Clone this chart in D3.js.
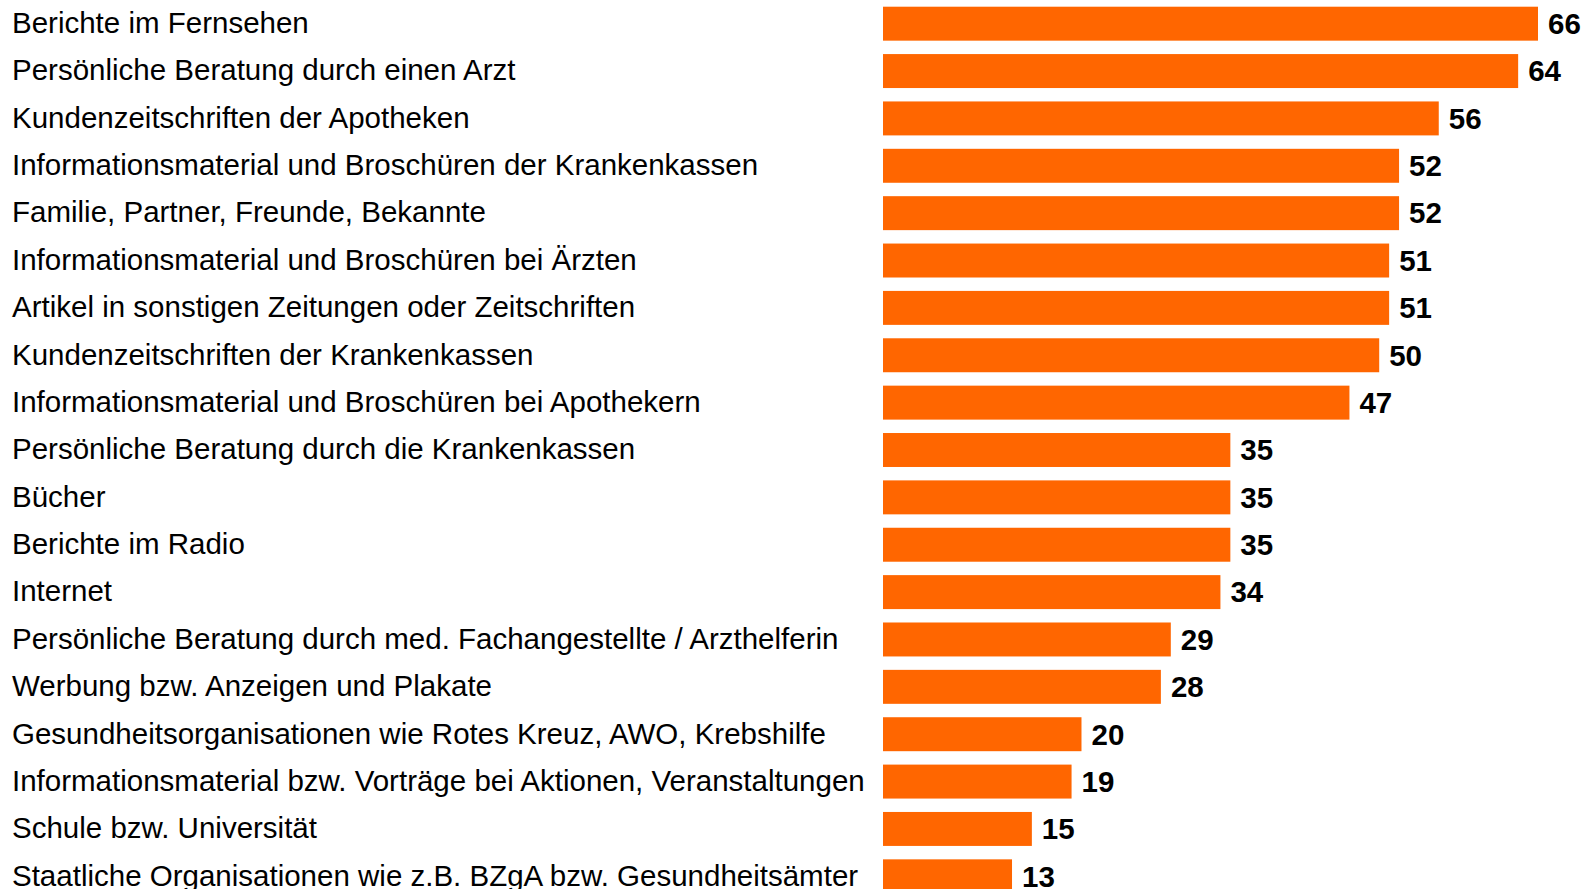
<!DOCTYPE html>
<html>
<head>
<meta charset="utf-8">
<script src="https://cdn.jsdelivr.net/npm/d3@7"></script>
<style>
  html, body { margin: 0; padding: 0; background: #fff; }
  svg { display: block; }
</style>
</head>
<body>
<div id="chart"></div>
<script>
const categories = [
    "Berichte im Fernsehen",
    "Persönliche Beratung durch einen Arzt",
    "Kundenzeitschriften der Apotheken",
    "Informationsmaterial und Broschüren der Krankenkassen",
    "Familie, Partner, Freunde, Bekannte",
    "Informationsmaterial und Broschüren bei Ärzten",
    "Artikel in sonstigen Zeitungen oder Zeitschriften",
    "Kundenzeitschriften der Krankenkassen",
    "Informationsmaterial und Broschüren bei Apothekern",
    "Persönliche Beratung durch die Krankenkassen",
    "Bücher",
    "Berichte im Radio",
    "Internet",
    "Persönliche Beratung durch med. Fachangestellte / Arzthelferin",
    "Werbung bzw. Anzeigen und Plakate",
    "Gesundheitsorganisationen wie Rotes Kreuz, AWO, Krebshilfe",
    "Informationsmaterial bzw. Vorträge bei Aktionen, Veranstaltungen",
    "Schule bzw. Universität",
    "Staatliche Organisationen wie z.B. BZgA bzw. Gesundheitsämter"
];
const values = [66, 64, 56, 52, 52, 51, 51, 50, 47, 35, 35, 35, 34, 29, 28, 20, 19, 15, 13];

const width = 1584, height = 889;
const barLeft = 883;
const fontSize = 29.5;

const svg = d3.select("#chart")
    .append("svg")
    .attr("width", width)
    .attr("height", height);

// rows: ~47.4px pitch, 34px bars
const y = d3.scaleBand()
    .domain(categories)
    .range([0, 900])
    .paddingInner(0.283)
    .paddingOuter(0.1415);

const x = d3.scaleLinear()
    .domain([0, 66])
    .range([0, 655]);

const rows = svg.selectAll("g.row")
    .data(categories.map((c, i) => ({cat: c, val: values[i]})))
    .enter()
    .append("g")
    .attr("class", "row");

rows.append("rect")
    .attr("x", barLeft)
    .attr("y", d => y(d.cat))
    .attr("width", d => x(d.val))
    .attr("height", y.bandwidth())
    .attr("fill", "#ff6600");

rows.append("text")
    .attr("x", 12)
    .attr("y", d => y(d.cat) + y.bandwidth() / 2 - 1)
    .attr("dy", "0.35em")
    .attr("font-family", "'Liberation Sans', Arial, sans-serif")
    .attr("font-size", fontSize)
    .attr("fill", "#000")
    .text(d => d.cat);

rows.append("text")
    .attr("x", d => barLeft + x(d.val) + 10)
    .attr("y", d => y(d.cat) + y.bandwidth() / 2)
    .attr("dy", "0.35em")
    .attr("font-family", "'Liberation Sans', Arial, sans-serif")
    .attr("font-weight", "bold")
    .attr("font-size", fontSize)
    .attr("fill", "#000")
    .text(d => d.val);
</script>
</body>
</html>
